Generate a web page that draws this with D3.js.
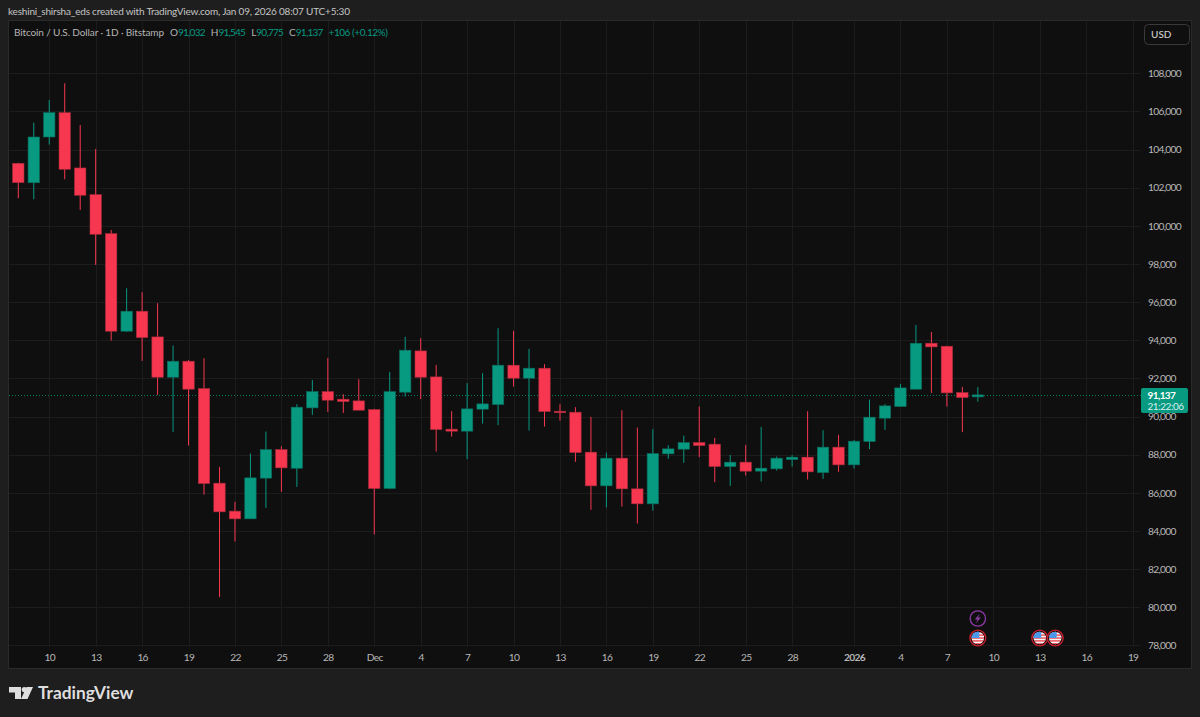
<!DOCTYPE html>
<html>
<head>
<meta charset="utf-8">
<title>Bitcoin / U.S. Dollar</title>
<script src="https://cdn.jsdelivr.net/npm/d3@7/dist/d3.min.js"></script>
<style>
  html, body { margin: 0; padding: 0; background: #1e1e1e; }
  svg { display: block; }
  text { font-family: "Lato", "Open Sans", sans-serif; }
</style>
</head>
<body>
<svg id="chart" width="1200" height="717"></svg>
<script>
// Daily sessions starting 8 Nov 2025
const firstSession = "2025-11-08";
const opens = [103280,102260,104660,105935,103036,101636,99592,94476,95524,94177,92064,92903,91467,86508,85040,84636,86770,88269,87290,90455,91309,90911,90822,90366,86225,91278,93443,92080,89338,89234,90387,90628,92693,92012,92536,90280,90230,88133,86366,87818,86209,85423,88044,88290,88636,88552,87378,87609,87137,87257,87745,87871,87063,88395,87467,88688,89915,90523,91435,93847,93689,91257,91032];
const highs = [103310,105410,106600,107476,105290,104032,99786,96730,96520,95943,93721,92971,93060,87362,85528,88059,89213,88447,90649,91923,93076,91173,91959,90403,92342,94177,94109,92709,90282,91750,92274,94633,94491,93548,92746,90649,90492,89983,88112,90334,89422,89338,88500,89003,90523,88882,87991,88515,89459,87902,87976,90282,89286,89040,88778,90890,90649,91713,94806,94439,93705,91556,91545];
const lows = [101447,101395,104257,102443,100834,97951,93983,94439,92919,91136,89197,88479,85910,80532,83446,84636,85213,86052,86314,90088,90245,90193,90334,83813,86193,91047,90911,88164,88951,87766,89632,89548,91572,89265,89475,89789,87624,85108,85229,85281,84390,85071,87782,87572,87871,86560,86366,86906,86592,87168,87378,86697,86733,87100,87273,88290,89302,90523,91435,91241,90523,89181,90775];
const closes = [102265,104660,105935,102968,101605,99560,94476,95524,94140,92064,92903,91435,86487,85003,84636,86786,88269,87310,90492,91309,90859,90785,90334,86225,91309,93480,92064,89318,89234,90403,90665,92693,92012,92536,90261,90260,88112,86366,87818,86209,85423,88059,88306,88636,88479,87378,87609,87137,87294,87818,87871,87100,88395,87467,88709,89968,90560,91503,93847,93653,91241,90995,91137];

const priceTicks = [78000,80000,82000,84000,86000,88000,90000,92000,94000,96000,98000,100000,102000,104000,106000,108000];
const timeTicks = ["2025-11-10","2025-11-13","2025-11-16","2025-11-19","2025-11-22","2025-11-25","2025-11-28","2025-12-01","2025-12-04","2025-12-07","2025-12-10","2025-12-13","2025-12-16","2025-12-19","2025-12-22","2025-12-25","2025-12-28","2026-01-01","2026-01-04","2026-01-07","2026-01-10","2026-01-13","2026-01-16","2026-01-19"];
const boldTicks = ["2026-01-01"];
const dayMarks = ["2026-01-09","2026-01-13","2026-01-14"];
const flashMarks = ["2026-01-09"];

const lastPrice = closes[closes.length - 1];
// text, colour, gap before, tracking
const legendParts = [
  ["Bitcoin / U.S. Dollar · 1D · Bitstamp", "#b4b4b4", 0, -0.12],
  ["O", "#b4b4b4", 6, 0], ["91,032", "#089981", 0, -0.75],
  ["H", "#b4b4b4", 6, 0], ["91,545", "#089981", 0, -0.75],
  ["L", "#b4b4b4", 6, 0], ["90,775", "#089981", 0, -0.75],
  ["C", "#b4b4b4", 6, 0], ["91,137", "#089981", 0, -0.75],
  ["+106 (+0.12%)", "#089981", 6, -0.45]
];

const UP = "#089981", DOWN = "#f7374f";
const svg = d3.select("#chart");
const dayMs = 864e5;
const parseDay = d3.utcParse("%Y-%m-%d");
const dates = closes.map((_, i) => new Date(+parseDay(firstSession) + i * dayMs));

// Scales: the plot spans 8 Nov -> 19 Jan on x and 78k -> 108k on y
const x = d3.scaleUtc()
  .domain([parseDay(firstSession), parseDay("2026-01-19")])
  .range([18.3, 1132.6]);
const y = d3.scaleLinear().domain([78000, 108000]).range([645.4, 73.3]);
const bodyW = 11.4;

// Shared style for the narrow axis numerals
const tickStyle = sel => sel.attr("fill", "#b8b8b8").attr("font-size", 10.2)
  .attr("letter-spacing", -0.7).attr("font-family", "Lato, sans-serif");

// Pane
svg.append("rect").attr("x", 8.5).attr("y", 20.5).attr("width", 1183).attr("height", 648)
  .attr("fill", "#0f0f0f").attr("stroke", "#2a2a2a");

svg.append("text").attr("x", 8).attr("y", 15).attr("font-size", 10).attr("letter-spacing", -0.2)
  .attr("fill", "#c4c4c4")
  .text("keshini_shirsha_eds created with TradingView.com, Jan 09, 2026 08:07 UTC+5:30");

// Grid
const grid = svg.append("g").attr("stroke", "#1c1c1c").attr("stroke-width", 1);
grid.selectAll(".v").data(timeTicks).join("line")
  .attr("x1", d => Math.round(x(parseDay(d))) + 0.5).attr("x2", d => Math.round(x(parseDay(d))) + 0.5)
  .attr("y1", 21).attr("y2", 647);
grid.selectAll(".h").data(priceTicks).join("line")
  .attr("x1", 9).attr("x2", 1140)
  .attr("y1", d => Math.round(y(d)) + 0.5).attr("y2", d => Math.round(y(d)) + 0.5);

// Axes
const xAxis = svg.append("g").attr("transform", "translate(0,649)")
  .call(d3.axisBottom(x)
    .tickValues(timeTicks.map(parseDay))
    .tickSize(0).tickPadding(5)
    .tickFormat(d => {
      if (d.getUTCMonth() === 0 && d.getUTCDate() === 1) return d3.utcFormat("%Y")(d);
      if (d.getUTCDate() === 1) return d3.utcFormat("%b")(d);
      return d3.utcFormat("%-d")(d);
    }));
xAxis.select(".domain").remove();
xAxis.selectAll("text").call(tickStyle)
  .attr("font-weight", d => boldTicks.includes(d3.utcFormat("%Y-%m-%d")(d)) ? 700 : 400);

const yAxis = svg.append("g").attr("transform", "translate(1148,0)")
  .call(d3.axisRight(y).tickValues(priceTicks).tickSize(0).tickPadding(0).tickFormat(d3.format(",")));
yAxis.select(".domain").remove();
yAxis.selectAll("text").call(tickStyle);

// Last price line
svg.append("line").attr("x1", 9).attr("x2", 1141)
  .attr("y1", Math.round(y(lastPrice)) + 0.5).attr("y2", Math.round(y(lastPrice)) + 0.5)
  .attr("stroke", UP).attr("stroke-opacity", 0.75).attr("stroke-dasharray", "1 2");

// Candles
const candles = svg.append("g").selectAll("g").data(d3.range(closes.length)).join("g");
candles.append("line")
  .attr("x1", i => x(dates[i])).attr("x2", i => x(dates[i]))
  .attr("y1", i => y(highs[i])).attr("y2", i => y(lows[i]))
  .attr("stroke", i => closes[i] >= opens[i] ? UP : DOWN).attr("stroke-width", 1);
candles.append("rect")
  .attr("x", i => x(dates[i]) - bodyW / 2).attr("width", bodyW)
  .attr("y", i => y(Math.max(opens[i], closes[i])))
  .attr("height", i => Math.max(1.5, Math.abs(y(opens[i]) - y(closes[i]))))
  .attr("fill", i => closes[i] >= opens[i] ? UP : DOWN)
  .attr("stroke", i => closes[i] >= opens[i] ? "#0b6b5c" : "#a62c3c")
  .attr("stroke-width", 0.6);

// Legend row
const legend = svg.append("text").attr("x", 14).attr("y", 35.5).attr("font-size", 10);
legendParts.forEach(([t, c, gap, track]) =>
  legend.append("tspan").attr("dx", gap).attr("fill", c).attr("letter-spacing", track).text(t));

// Currency button
svg.append("rect").attr("x", 1144.5).attr("y", 24.5).attr("width", 45).attr("height", 20).attr("rx", 4)
  .attr("fill", "#0f0f0f").attr("stroke", "#3a3a3a");
svg.append("text").attr("x", 1151).attr("y", 38).attr("font-size", 10).attr("font-weight", 500)
  .attr("fill", "#d0d0d0").text("USD");

// Last price tag
svg.append("rect").attr("x", 1141).attr("y", 388).attr("width", 47).attr("height", 25).attr("rx", 2).attr("fill", UP);
svg.append("text").attr("x", 1147.5).attr("y", 398.5).attr("font-size", 10).attr("letter-spacing", -0.6)
  .attr("font-weight", 700).attr("fill", "#ffffff").text(d3.format(",")(lastPrice));
svg.append("text").attr("x", 1147.5).attr("y", 409.5).attr("font-size", 10).attr("letter-spacing", -0.45)
  .attr("fill", "#d6efea").text("21:22:06");

// Economic event marks under the sessions
const defs = svg.append("defs");
defs.append("clipPath").attr("id", "flagClip").append("circle").attr("r", 6.2);
const flagRows = [0, 1, 2, 3, 4];
const marks = svg.append("g").selectAll("g").data(dayMarks).join("g")
  .attr("transform", d => `translate(${x(parseDay(d))},638)`);
marks.append("circle").attr("r", 7.9).attr("fill", "#0f0f0f").attr("stroke", "#c8202f").attr("stroke-width", 1.4);
const flag = marks.append("g").attr("clip-path", "url(#flagClip)");
flag.append("rect").attr("x", -7).attr("y", -7).attr("width", 14).attr("height", 14).attr("fill", "#f6f6f6");
flag.selectAll(".stripe").data(flagRows).join("rect")
  .attr("x", -7).attr("width", 14).attr("y", r => -6.5 + r * 2.9).attr("height", 1.45)
  .attr("fill", "#ef4d57");
flag.append("rect").attr("x", -7).attr("y", -7).attr("width", 8.5).attr("height", 7).attr("fill", "#4a98ea");

const flash = svg.append("g").selectAll("g").data(flashMarks).join("g")
  .attr("transform", d => `translate(${x(parseDay(d))},618.5)`);
flash.append("circle").attr("r", 7.7).attr("fill", "#0f0f0f").attr("stroke", "#8e3aa8").attr("stroke-width", 1.3);
flash.append("path").attr("d", "M2,-5 L-3,0.9 L-0.2,0.9 L-2,5 L3,-0.9 L0.2,-0.9 Z").attr("fill", "#8e3aa8");

// Brand mark
const brand = svg.append("g").attr("fill", "#dedede");
brand.append("path").attr("d", "M9,687 H21 V699 H15 V692.5 H9 Z");
brand.append("circle").attr("cx", 24.3).attr("cy", 689.6).attr("r", 2.6);
brand.append("path").attr("d", "M26.5,687 H33 L27.5,699 H21 Z");
svg.append("text").attr("x", 38).attr("y", 699).attr("font-size", 17.3).attr("font-weight", 700)
  .attr("fill", "#dedede").text("TradingView");
</script>
</body>
</html>
